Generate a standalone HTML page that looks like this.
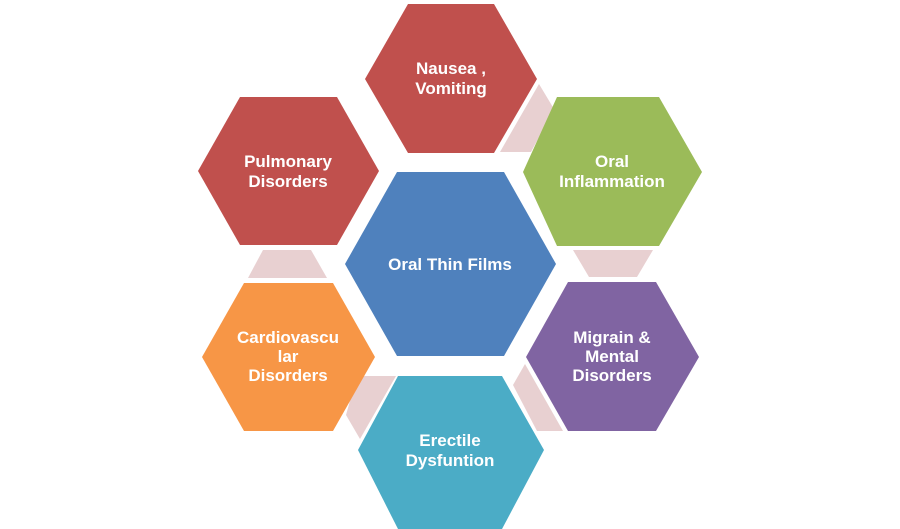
<!DOCTYPE html>
<html><head><meta charset="utf-8"><style>
html,body{margin:0;padding:0;background:#fff;}
svg{display:block;}
text{font-family:"Liberation Sans",Arial,sans-serif;font-weight:bold;font-size:17px;fill:#fff;text-anchor:middle;}
</style></head><body>
<svg width="900" height="529" viewBox="0 0 900 529" xmlns="http://www.w3.org/2000/svg">
<g fill="#e8d0d1">
<polygon points="539,84 554,109 531,152 500,152"/>
<polygon points="573,250 653,250 637,277 589,277"/>
<polygon points="525,364 563,431 537,431 513,385"/>
<polygon points="357,376 396,376 360,439 346,415"/>
<polygon points="263,250 311,250 327,278 248,278"/>
</g>
<polygon fill="#c0504d" points="408,4 494,4 537,79 494,153 408,153 365,79"/>
<polygon fill="#9bbb59" points="557,97 659,97 702,172 659,246 557,246 523,172"/>
<polygon fill="#8064a2" points="568,282 656,282 699,357 656,431 568,431 526,357"/>
<polygon fill="#4bacc6" points="398,376 502,376 544,450 502,529 398,529 358,450"/>
<polygon fill="#f79646" points="244,283 333,283 375,357 333,431 244,431 202,357"/>
<polygon fill="#c0504d" points="240,97 337,97 379,171 337,245 240,245 198,171"/>
<polygon fill="#4f81bd" points="397,172 504,172 556,264 504,356 397,356 345,264"/>
<text x="451" y="74">Nausea ,</text>
<text x="451" y="94">Vomiting</text>
<text x="612" y="167">Oral</text>
<text x="612" y="187">Inflammation</text>
<text x="612" y="343">Migrain &amp;</text>
<text x="612" y="362">Mental</text>
<text x="612" y="381">Disorders</text>
<text x="450" y="446">Erectile</text>
<text x="450" y="466">Dysfuntion</text>
<text x="288" y="343">Cardiovascu</text>
<text x="288" y="362">lar</text>
<text x="288" y="381">Disorders</text>
<text x="288" y="167">Pulmonary</text>
<text x="288" y="187">Disorders</text>
<text x="450" y="270">Oral Thin Films</text>
</svg>
</body></html>
